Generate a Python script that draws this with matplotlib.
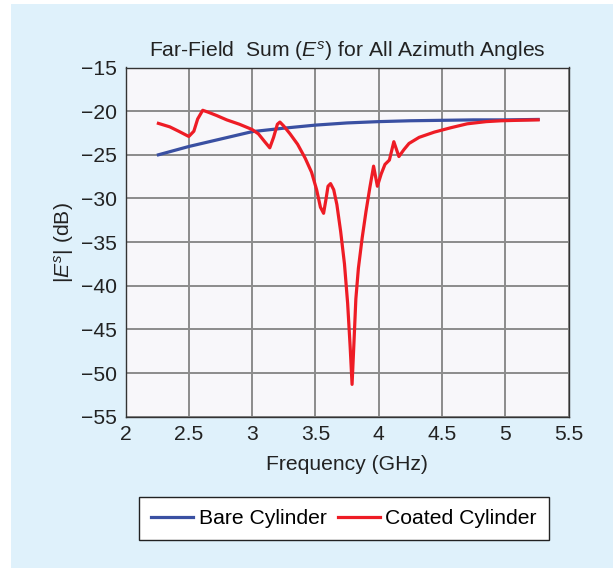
import matplotlib
matplotlib.use('Agg')
import matplotlib.pyplot as plt
from matplotlib.patches import Rectangle

plt.rcParams['font.family'] = ['Liberation Sans', 'DejaVu Sans']
plt.rcParams['mathtext.fontset'] = 'custom'
plt.rcParams['mathtext.rm'] = 'Liberation Sans'
plt.rcParams['mathtext.it'] = 'Liberation Sans:italic'

COLOUR_BG = '#dff1fb'
COLOUR_PLOT = '#f8f7fa'
COLOUR_BLUE = '#3a50a2'
COLOUR_RED = '#ee1c25'
COLOUR_GRID = '#8c8c8c'

# bare cylinder
bare_freq = [2.26, 2.5, 2.75, 3.0, 3.25, 3.5, 3.75, 4.0, 4.25, 4.5, 4.75, 5.0, 5.26]
bare_db = [-25.0, -24.05, -23.2, -22.35, -21.95, -21.6, -21.35, -21.2, -21.1,
           -21.05, -21.0, -21.0, -20.95]

# coated cylinder
coated_freq = [2.26, 2.35, 2.42, 2.50, 2.54, 2.57, 2.61, 2.65, 2.72, 2.80, 2.90,
               3.00, 3.05, 3.10, 3.14, 3.17, 3.20, 3.22, 3.25, 3.30, 3.36, 3.42,
               3.47, 3.51, 3.54, 3.565, 3.585, 3.60, 3.62, 3.645, 3.67, 3.70,
               3.73, 3.755, 3.775, 3.79, 3.805, 3.82, 3.84, 3.87, 3.90, 3.93,
               3.96, 3.99, 4.02, 4.05, 4.085, 4.12, 4.16, 4.20, 4.24, 4.32,
               4.44, 4.57, 4.70, 4.85, 4.97, 5.10, 5.26]
coated_db = [-21.4, -21.8, -22.3, -22.9, -22.3, -20.9, -19.9, -20.1, -20.5, -21.0,
             -21.5, -22.1, -22.6, -23.5, -24.2, -23.0, -21.5, -21.25, -21.7, -22.6,
             -23.8, -25.4, -27.0, -29.0, -31.0, -31.7, -30.0, -28.6, -28.3, -29.0,
             -30.7, -33.8, -37.5, -42.0, -47.0, -51.3, -46.5, -41.5, -38.0, -34.5,
             -31.5, -28.8, -26.3, -28.6, -27.2, -26.1, -25.6, -23.5, -25.2, -24.4,
             -23.7, -23.0, -22.4, -21.9, -21.45, -21.2, -21.1, -21.05, -21.0]

X_TICKS = [2, 2.5, 3, 3.5, 4, 4.5, 5, 5.5]
X_LABELS = ['2', '2.5', '3', '3.5', '4', '4.5', '5', '5.5']
Y_TICKS = [n for n in range(-55, -14, 5)]

FS = 15.2

W, H = 613, 568
fig = plt.figure(figsize=(W / 100, H / 100), dpi=100, facecolor='white')
# light blue panel with a thin white margin top/left
fig.patches.append(Rectangle((11 / W, 0), 1 - 11 / W, 1 - 4 / H, transform=fig.transFigure,
                             facecolor=COLOUR_BG, edgecolor='none', zorder=-10))

left, right, top, bottom = 125.5, 568.5, 67.5, 416.7
ax = fig.add_axes([left / W, 1 - bottom / H, (right - left) / W, (bottom - top) / H])
ax.set_facecolor(COLOUR_PLOT)

ax.plot(bare_freq, bare_db, color=COLOUR_BLUE, lw=2.3, label='Bare Cylinder', zorder=3)
ax.plot(coated_freq, coated_db, color=COLOUR_RED, lw=2.3, label='Coated Cylinder', zorder=4)

ax.set_xlim(2, 5.5)
ax.set_ylim(-55, -15)
ax.set_xticks(X_TICKS)
ax.set_xticklabels(X_LABELS)
ax.set_yticks(Y_TICKS)
ax.tick_params(length=0, labelsize=FS, pad=6, colors='#222222')
ax.grid(color=COLOUR_GRID, lw=1.4)
ax.set_axisbelow(True)
for spine in ax.spines.values():
    spine.set_color('#333333')
    spine.set_linewidth(1.0)

ax.set_title('Far-Field  Sum ($E^s$) for All Azimuth Angles', fontsize=FS, pad=8, color='#222222')
ax.set_xlabel('Frequency (GHz)', fontsize=FS, labelpad=8, color='#222222')
ax.set_ylabel('$|E^s|$ (dB)', fontsize=FS, labelpad=4, color='#222222')

leg = fig.legend(loc='center', bbox_to_anchor=(344 / W, 1 - 518.5 / H), ncol=2,
                 fontsize=FS, frameon=True, fancybox=False, handlelength=2.0,
                 handletextpad=0.25, columnspacing=0.55, borderpad=0.55)
leg.get_frame().set_edgecolor('#222222')
leg.get_frame().set_linewidth(1.0)
leg.get_frame().set_facecolor('white')
leg.get_frame().set_alpha(1.0)

fig.savefig('out.png', dpi=100, facecolor=fig.get_facecolor())
